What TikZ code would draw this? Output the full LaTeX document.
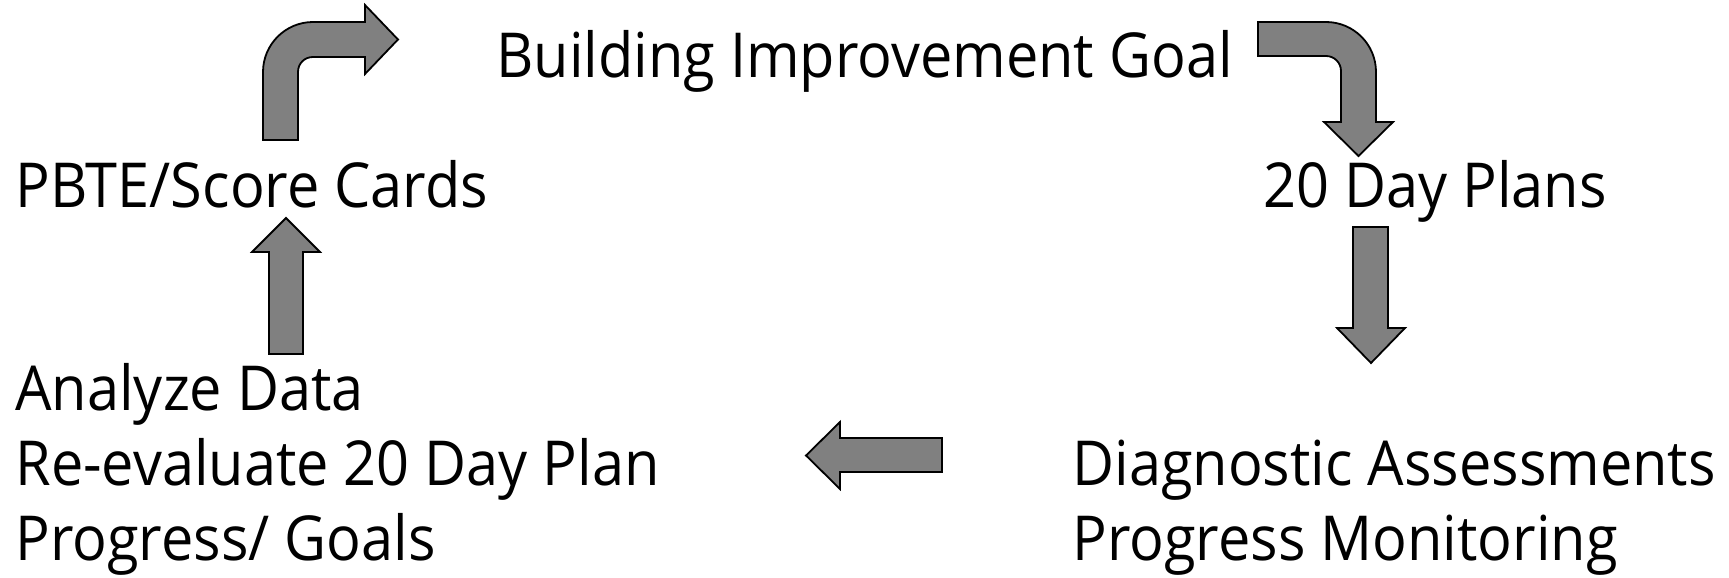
\documentclass[tikz,border=0pt]{standalone}
\usepackage{fontspec}
\setmainfont{Open Sans}[FakeStretch=0.93]
\tikzset{
  steptext/.style={anchor=base west, inner sep=0pt, align=left,
    font=\fontsize{31}{37.5}\selectfont},
  blockarrow/.style={fill=gray, draw=black, line width=0.9pt, line join=miter}
}
\begin{document}
\begin{tikzpicture}[x=0.5pt, y=-0.5pt]
\useasboundingbox (0,0) rectangle (1729,578);
% texts
\node[steptext] (goal) at (496,77) {Building Improvement Goal};
\node[steptext] (pbte) at (15,207) {PBTE/Score Cards};
\node[steptext] (plans) at (1263,207) {20 Day Plans};
\node[steptext] (analyze) at (15,560) {Analyze Data\\Re-evaluate 20 Day Plan\\Progress/ Goals};
\node[steptext] (diag) at (1072,560) {Diagnostic Assessments\\Progress Monitoring};
% bent arrow, pbte to goal
\filldraw[blockarrow] (263,140) -- (263,72) .. controls (263,44.4) and (285.4,22) .. (313,22)
  -- (365,22) -- (365,5) -- (398,39.5) -- (365,74) -- (365,57) -- (313,57)
  .. controls (304.7,57) and (298,63.3) .. (298,72) -- (298,140) -- cycle;
% bent arrow, goal to plans
\filldraw[blockarrow] (1258,22) -- (1326,22) .. controls (1353.6,22) and (1376,44.4) .. (1376,72)
  -- (1376,122) -- (1393,122) -- (1358.5,156) -- (1324,122) -- (1341,122) -- (1341,71)
  .. controls (1341,62.7) and (1334.3,56) .. (1326,56) -- (1258,56) -- cycle;
% straight arrows
\filldraw[blockarrow] (1353,227) -- (1388,227) -- (1388,328) -- (1405,328) -- (1371,363)
  -- (1337,328) -- (1353,328) -- cycle;
\filldraw[blockarrow] (942,438) -- (942,472) -- (840,472) -- (840,489) -- (806,455.5)
  -- (840,422) -- (840,438) -- cycle;
\filldraw[blockarrow] (269,354) -- (269,252) -- (252,252) -- (286,218) -- (320,252)
  -- (303,252) -- (303,354) -- cycle;
\end{tikzpicture}
\end{document}
